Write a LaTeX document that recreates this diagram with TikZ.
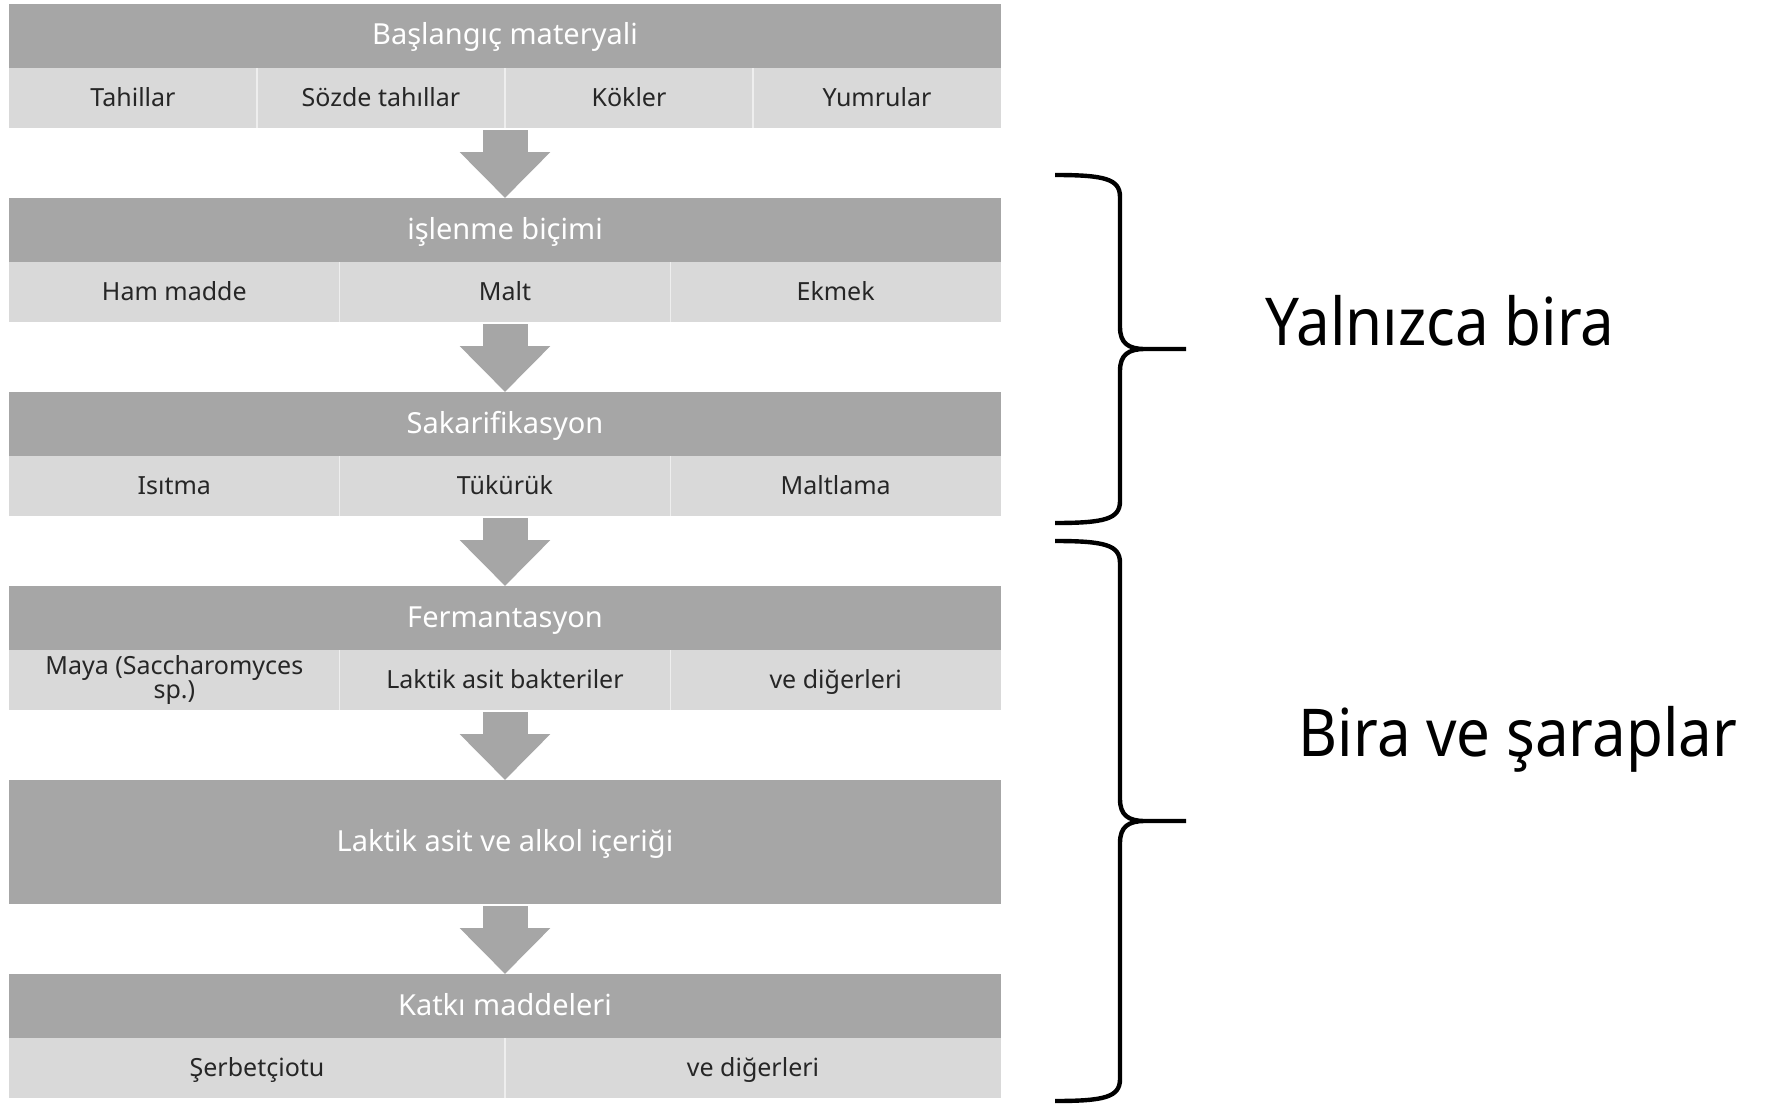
\documentclass[tikz,border=0pt]{standalone}
\usepackage{fontspec}
\setmainfont{Noto Sans}
\newfontfamily\sidefont[FakeStretch=0.91]{Noto Sans}
\usetikzlibrary{positioning,arrows.meta}

\definecolor{headgray}{HTML}{A6A6A6}
\definecolor{rowgray}{HTML}{D9D9D9}
\definecolor{textgray}{HTML}{262626}

\tikzset{
  header/.style={fill=headgray, text=white, minimum width=496pt, minimum height=32pt,
    inner sep=0pt, outer sep=0pt, text height=11pt, text depth=2pt,
    font=\fontsize{14.5}{17}\selectfont},
  itemrow/.style={fill=rowgray, minimum width=496pt, minimum height=30pt,
    inner sep=0pt, outer sep=0pt},
  cell/.style={text=textgray, inner sep=0pt, align=center,
    text height=10pt, text depth=1.5pt, font=\fontsize{12.5}{12}\selectfont},
  twolines/.style={text height=, text depth=},
  divider/.style={white!55!rowgray, line width=0.8pt},
  flowarrow/.style={headgray, line width=22.5pt,
    -{Triangle[length=23pt,width=44pt]}, shorten <=1pt},
  sidebrace/.style={black, line width=2.2pt, line join=round},
  sidelabel/.style={font=\sidefont\fontsize{33}{36}\selectfont, anchor=base}
}

\begin{document}
\begin{tikzpicture}[x=0.5pt,y=-0.5pt]
    \useasboundingbox (0,0) rectangle (1774,1108);

    % Boxes: header bar and its row of items
    \node[header] (h1) at (505,36) {Başlangıç materyali};
    \node[itemrow, below=0pt of h1] (r1) {};
    \node[header, below=35pt of r1] (h2) {işlenme biçimi};
    \node[itemrow, below=0pt of h2] (r2) {};
    \node[header, below=35pt of r2] (h3) {Sakarifikasyon};
    \node[itemrow, below=0pt of h3] (r3) {};
    \node[header, below=35pt of r3] (h4) {Fermantasyon};
    \node[itemrow, below=0pt of h4] (r4) {};
    \node[header, below=35pt of r4, minimum height=62pt] (h5) {Laktik asit ve alkol içeriği};
    \node[header, below=35pt of h5] (h6) {Katkı maddeleri};
    \node[itemrow, below=0pt of h6] (r6) {};

    % Items, four columns
    \foreach \txt [count=\i] in {Tahillar, Sözde tahıllar, Kökler, Yumrular}
        \node[cell] (c1\i) at ([xshift={(\i-0.5)*124pt}]r1.west) {\txt};
    \foreach \i in {1,2,3}
        \draw[divider] ([xshift=\i*124pt]r1.north west) -- ([xshift=\i*124pt]r1.south west);

    % Items, three columns
    \foreach \txt [count=\i] in {Ham madde, Malt, Ekmek}
        \node[cell] (c2\i) at ([xshift={(\i-0.5)*165.33pt}]r2.west) {\txt};
    \foreach \txt [count=\i] in {Isıtma, Tükürük, Maltlama}
        \node[cell] (c3\i) at ([xshift={(\i-0.5)*165.33pt}]r3.west) {\txt};
    \node[cell, twolines] (c41) at ([xshift=82.67pt]r4.west) {Maya (Saccharomyces\\sp.)};
    \foreach \txt [count=\i from 2] in {Laktik asit bakteriler, ve diğerleri}
        \node[cell] (c4\i) at ([xshift={(\i-0.5)*165.33pt}]r4.west) {\txt};
    \foreach \r in {r2,r3,r4}
        \foreach \i in {1,2}
            \draw[divider] ([xshift=\i*165.33pt]\r.north west) -- ([xshift=\i*165.33pt]\r.south west);

    % Items, two columns
    \foreach \txt [count=\i] in {Şerbetçiotu, ve diğerleri}
        \node[cell] (c6\i) at ([xshift={(\i-0.5)*248pt}]r6.west) {\txt};
    \draw[divider] (r6.north) -- (r6.south);

    % Arrows between the steps
    \draw[flowarrow] (r1.south) -- (h2.north);
    \draw[flowarrow] (r2.south) -- (h3.north);
    \draw[flowarrow] (r3.south) -- (h4.north);
    \draw[flowarrow] (r4.south) -- (h5.north);
    \draw[flowarrow] (h5.south) -- (h6.north);

    % Braces on the right
    \foreach \T/\M/\B in {175/349/523, 541/821/1101}
        \draw[sidebrace] (1055,\T) .. controls (1105,\T) and (1120,{\T+4}) .. (1120,{\T+22})
            -- (1120,{\M-22}) .. controls (1120,{\M-6}) and (1128,\M) .. (1145,\M) -- (1186,\M)
            (1145,\M) .. controls (1128,\M) and (1120,{\M+6}) .. (1120,{\M+22})
            -- (1120,{\B-22}) .. controls (1120,{\B-4}) and (1105,\B) .. (1055,\B);

    % Labels of the braces
    \node[sidelabel] (beeronly) at (1440,345) {Yalnızca bira};
    \node[sidelabel] (beerwine) at (1518,756) {Bira ve şaraplar};
\end{tikzpicture}
\end{document}
